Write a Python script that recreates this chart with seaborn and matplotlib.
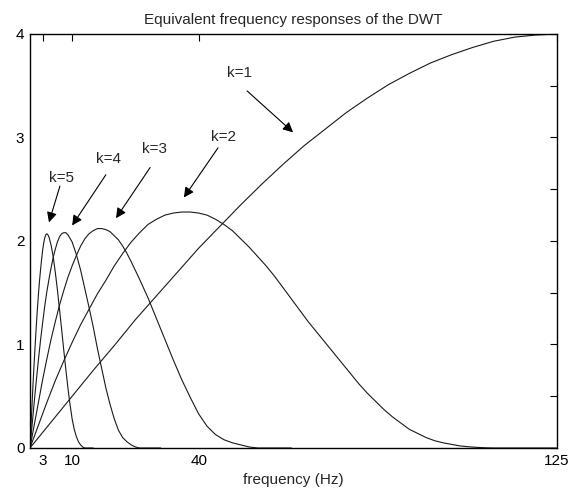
import matplotlib
matplotlib.use("Agg")
import matplotlib.pyplot as plt
import seaborn as sns

# 그림에서 읽어낸 값 (주파수 Hz, 응답)
freq_k1 = [0, 5, 10, 15, 20, 25, 30, 35, 40, 45, 50, 55, 60, 65, 70, 75, 80, 85,
           90, 95, 100, 105, 110, 115, 120, 125]
resp_k1 = [0, 0.25, 0.50, 0.75, 0.99, 1.24, 1.47, 1.70, 1.93, 2.14, 2.35, 2.55,
           2.74, 2.92, 3.08, 3.24, 3.38, 3.51, 3.62, 3.72, 3.80, 3.87, 3.93, 3.97,
           3.99, 4.00]

freq_k2 = [0, 2, 4, 6, 8, 10, 12, 14, 16, 18, 20, 22, 24, 26, 28, 30, 32, 34, 36,
           38, 40, 42, 44, 46, 48, 50, 52, 54, 56, 58, 60, 62, 64, 66, 68, 70, 72,
           74, 76, 78, 80, 82, 84, 86, 88, 90, 92, 94, 96, 98, 100, 102, 104, 106,
           108, 110, 125]
resp_k2 = [0, 0.22, 0.44, 0.65, 0.84, 1.02, 1.19, 1.34, 1.49, 1.62, 1.76, 1.88,
           1.99, 2.08, 2.16, 2.21, 2.25, 2.27, 2.28, 2.28, 2.27, 2.25, 2.21, 2.16,
           2.10, 2.02, 1.94, 1.85, 1.76, 1.66, 1.55, 1.44, 1.33, 1.22, 1.12, 1.02,
           0.92, 0.82, 0.72, 0.62, 0.53, 0.45, 0.37, 0.30, 0.24, 0.18, 0.14, 0.10,
           0.07, 0.05, 0.035, 0.02, 0.012, 0.006, 0.002, 0, 0]

freq_k3 = [0, 1, 2, 3, 4, 5, 6, 7, 8, 9, 10, 11, 12, 13, 14, 15, 16, 17, 18, 19,
           20, 21, 22, 23, 24, 26, 28, 30, 32, 34, 36, 38, 40, 42, 44, 46, 48, 50,
           52, 54, 62]
resp_k3 = [0, 0.22, 0.44, 0.66, 0.86, 1.05, 1.22, 1.38, 1.52, 1.65, 1.76, 1.86,
           1.95, 2.02, 2.07, 2.10, 2.12, 2.12, 2.11, 2.09, 2.05, 2.01, 1.95, 1.88,
           1.80, 1.63, 1.45, 1.25, 1.05, 0.85, 0.66, 0.49, 0.33, 0.21, 0.13, 0.08,
           0.05, 0.03, 0.01, 0, 0]

freq_k4 = [0, 0.5, 1, 1.5, 2, 2.5, 3, 3.5, 4, 4.5, 5, 5.5, 6, 6.5, 7, 7.5, 8, 8.5,
           9, 10, 11, 12, 13, 14, 15, 16, 17, 18, 19, 20, 21, 22, 23, 24, 25, 26, 31]
resp_k4 = [0, 0.22, 0.44, 0.65, 0.85, 1.04, 1.21, 1.37, 1.51, 1.63, 1.74, 1.84,
           1.92, 1.99, 2.04, 2.07, 2.08, 2.08, 2.06, 1.99, 1.87, 1.72, 1.54, 1.36,
           1.17, 0.96, 0.77, 0.58, 0.42, 0.28, 0.17, 0.10, 0.06, 0.03, 0.01, 0, 0]

freq_k5 = [0, 0.25, 0.5, 0.75, 1, 1.25, 1.5, 1.75, 2, 2.25, 2.5, 2.75, 3, 3.25, 3.5,
           3.75, 4, 4.25, 4.5, 5, 5.5, 6, 6.5, 7, 7.5, 8, 8.5, 9, 9.5, 10, 10.5, 11,
           11.5, 12, 12.5, 13, 15]
resp_k5 = [0, 0.22, 0.43, 0.64, 0.83, 1.01, 1.18, 1.34, 1.48, 1.61, 1.72, 1.82,
           1.91, 1.98, 2.03, 2.06, 2.07, 2.06, 2.04, 1.96, 1.85, 1.70, 1.53, 1.34,
           1.15, 0.95, 0.76, 0.58, 0.42, 0.28, 0.18, 0.11, 0.06, 0.03, 0.01, 0, 0]

curves = [(freq_k1, resp_k1), (freq_k2, resp_k2), (freq_k3, resp_k3),
          (freq_k4, resp_k4), (freq_k5, resp_k5)]
curve_labels = ["k=1", "k=2", "k=3", "k=4", "k=5"]

x_ticks = [3, 10, 40, 125]
y_ticks = [0, 0.5, 1, 1.5, 2, 2.5, 3, 3.5, 4]
y_tick_labels = ["0", "", "1", "", "2", "", "3", "", "4"]

sns.set_style("white")
plt.rcParams["font.family"] = ["Liberation Sans", "DejaVu Sans"]

fig = plt.figure(figsize=(5.81, 4.97), dpi=100)
ax = fig.add_axes([0.0516, 0.0986, 0.9071, 0.833])

for f, r in curves:
    sns.lineplot(x=f, y=r, ax=ax, color="#1a1a1a", linewidth=0.8, sort=False)

# 라벨과 화살표 (텍스트 위치, 화살표 시작, 화살표 끝)
annots = [
    ((49.8, 3.62), (51.5, 3.45), (62.4, 3.05)),
    ((46.0, 3.00), (44.6, 2.90), (36.5, 2.42)),
    ((29.6, 2.89), (28.5, 2.71), (20.4, 2.22)),
    ((18.7, 2.79), (18.0, 2.64), (10.0, 2.15)),
    ((7.4, 2.61), (7.1, 2.53), (4.5, 2.18)),
]
for lab, (txt, tail, head) in zip(curve_labels, annots):
    ax.text(txt[0], txt[1], lab, ha="center", va="center", fontsize=11)
    ax.annotate("", xy=head, xytext=tail,
                arrowprops=dict(arrowstyle="-|>", color="black", lw=0.8,
                                mutation_scale=15, shrinkA=0, shrinkB=0))

ax.set_xlim(0, 125)
ax.set_ylim(0, 4)
ax.set_xticks(x_ticks)
ax.set_xticklabels([str(t) for t in x_ticks])
ax.set_yticks(y_ticks)
ax.set_yticklabels(y_tick_labels)
ax.tick_params(direction="in", length=5, width=0.8, top=True, right=True,
               labelsize=11, pad=4, colors="black")
for s in ax.spines.values():
    s.set_color("black")
    s.set_linewidth(1.0)

ax.set_title("Equivalent frequency responses of the DWT", fontsize=11, pad=7)
ax.set_xlabel("frequency (Hz)", fontsize=11, labelpad=4)
ax.set_ylabel("")

fig.savefig("out.png", dpi=100)
